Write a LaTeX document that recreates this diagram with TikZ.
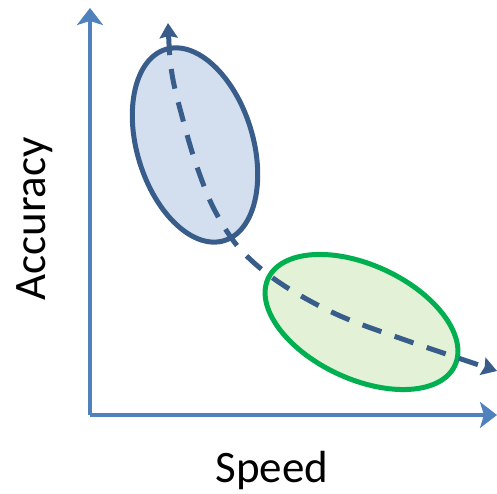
\documentclass[tikz,border=0pt]{standalone}
\usepackage{fontspec}
\setmainfont{Carlito}
\usetikzlibrary{arrows.meta}
\definecolor{axisblue}{HTML}{4F81BD}
\definecolor{darkblue}{HTML}{385D8A}
\definecolor{lightblue}{HTML}{D3DEEF}
\definecolor{mygreen}{HTML}{00B050}
\definecolor{lightgreen}{HTML}{E3F1D6}
\tikzset{
  axisline/.style={draw=axisblue, line width=3.5pt, -{Stealth[length=17pt,width=26pt,inset=4pt]}},
  blob/.style={line width=5pt},
  trend/.style={draw=darkblue, line width=5pt, dash pattern=on 20pt off 14pt,
     {Stealth[length=15pt,width=18pt,inset=2pt]}-{Stealth[length=15pt,width=18pt,inset=2pt]}},
  lbl/.style={font=\fontsize{45}{54}\selectfont, inner sep=0pt}
}
\begin{document}
\begin{tikzpicture}[x=1pt,y=1pt]
\useasboundingbox (0,0) rectangle (497,494);
\coordinate (o) at (90,79);
\coordinate (ytop) at (90,486);
\coordinate (xend) at (497,79);
\draw[axisline] (o) -- (ytop);
\draw[axisline] (o) -- (xend);
\draw[blob, draw=darkblue, fill=lightblue, rotate around={17:(195,349)}] (195,349) ellipse [x radius=58pt, y radius=100pt];
\draw[blob, draw=mygreen, fill=lightgreen, rotate around={-25:(361.5,172)}] (361.5,172) ellipse [x radius=103pt, y radius=57pt];
\draw[trend] plot[smooth, tension=0.55] coordinates {(168,471) (172,420) (183,374) (196,330) (214,285) (240,245) (280,211) (338,179) (408,153) (497,123)};
\node[lbl, anchor=base] (speed) at (272,11) {Speed};
\node[lbl, anchor=base, rotate=90] (acc) at (45,275) {Accuracy};
\end{tikzpicture}
\end{document}
